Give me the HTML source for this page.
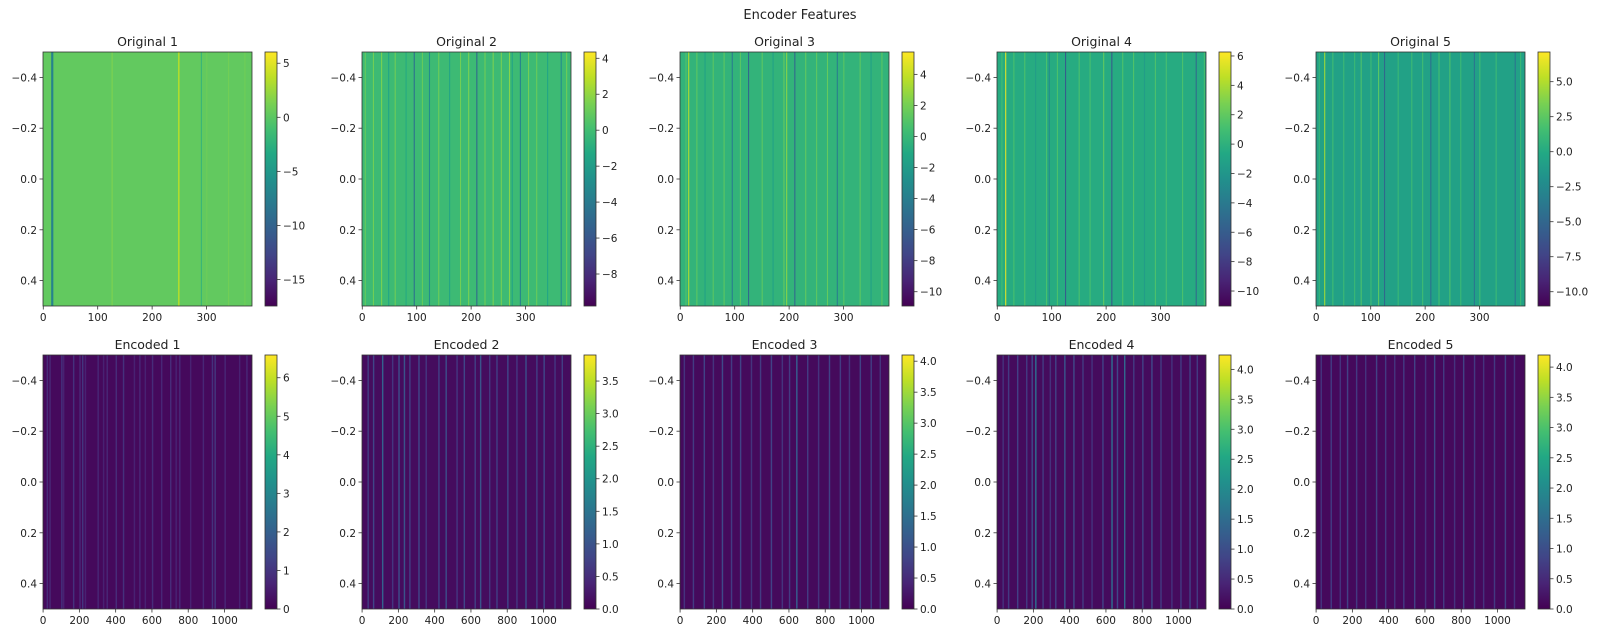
<!DOCTYPE html>
<html><head><meta charset="utf-8">
<style>
html,body{margin:0;padding:0;background:#fff;}
svg{display:block;font-family:"DejaVu Sans","Liberation Sans",sans-serif;}
</style></head>
<body>
<svg id="chart" width="1600" height="637" viewBox="0 0 1600 637" xmlns="http://www.w3.org/2000/svg">
<text x="800" y="19" text-anchor="middle" font-size="13" fill="#222">Encoder Features</text>
</svg>
<script>
// ---- data ----
const panelTitles = ["Original 1","Original 2","Original 3","Original 4","Original 5","Encoded 1","Encoded 2","Encoded 3","Encoded 4","Encoded 5"];
const origColumns = 384;
const encColumns = 1152;
const colorMins = [-17.45,-9.78,-10.92,-11.02,-11.02, 0,0,0,0,0];
const colorMaxs = [6.04,4.35,5.44,6.27,7.12, 6.59,3.9,4.1,4.24,4.2];
const cbarTicks = [
  [5,0,-5,-10,-15],[4,2,0,-2,-4,-6,-8],[4,2,0,-2,-4,-6,-8,-10],[6,4,2,0,-2,-4,-6,-8,-10],[5,-2.5,0,2.5,-5,-7.5,-10],
  [0,1,2,3,4,5,6],[0,0.5,1,1.5,2,2.5,3,3.5],[0,0.5,1,1.5,2,2.5,3,3.5,4],[0,0.5,1,1.5,2,2.5,3,3.5,4],[0,0.5,1,1.5,2,2.5,3,3.5,4]
];
const cbarDecimals = [0,0,0,0,1,0,1,1,1,1];
const baseValues = [0.3,-0.2,-0.3,-0.4,-0.7, 0.15,0.12,0.1,0.12,0.1];
const origXTicks = [0,100,200,300];
const encXTicks = [0,200,400,600,800,1000];
const yTicks = [-0.4,-0.2,0.0,0.2,0.4];
// stripe columns and values per panel
const stripeCols = [
  [15,16,17,126,248,249,290,300,340,370],
  [5,20,35,48,60,80,95,110,123,140,160,180,195,210,225,240,255,270,275,290,305,320,340,365,375],
  [10,15,30,45,60,80,95,110,125,150,170,190,195,210,230,250,270,288,300,330,350,370],
  [8,15,30,50,70,90,95,110,125,150,170,195,210,230,250,270,290,310,340,365,380],
  [5,15,30,50,70,82,100,114,125,150,175,195,210,225,245,265,290,300,330,365,375],
  [20,35,100,110,165,200,215,230,300,330,350,400,440,500,530,560,600,650,700,730,750,810,880,930,945,1000,1080,1120],
  [30,60,110,165,200,230,260,310,350,420,460,520,560,620,650,700,740,800,850,900,960,1000,1060,1100],
  [20,70,130,180,230,280,330,390,440,500,560,600,640,700,760,820,880,930,990,1050,1100],
  [30,60,110,160,190,210,250,290,320,370,420,470,520,580,630,660,700,750,800,850,900,960,1010,1060,1100],
  [25,80,130,170,220,270,330,380,430,480,540,600,650,700,760,810,870,920,980,1040,1090]
];
const stripeVals = [
  [-7,-7,-7,1.5,3.2,3.2,-2,0.8,1,0.9],
  [1,1.3,1.5,-1.5,1.2,-1.2,-4.5,1,-3,1.2,-1.5,1.3,1.5,-5,1.2,1.5,1.4,1.8,-1.6,-3.5,1.3,1.1,-1.4,-3,1.2],
  [1,3.5,1.3,-1.5,1.2,1.3,-4,1.2,-5.5,1.3,-1.5,1.5,2.5,-5.5,1.4,1.3,1.5,-4,1.2,1.3,-1.5,1.2],
  [1,5.5,1.2,1.3,-1.5,1.2,-3,1.3,-6,1.3,1.2,2,-6,1.4,1.5,-1.5,1.4,1.2,1.3,-5,1.2],
  [1,4.5,1.5,1.3,1.2,2,1.3,2.5,-5,1.2,1.3,1.5,-4.5,1.6,2,1.3,-4,1.5,1.3,-4,1.2],
  [0.8,0.7,0.9,0.6,0.9,0.7,1.0,0.6,0.7,0.6,0.7,0.8,0.9,0.6,0.7,0.6,0.8,0.7,0.8,0.6,0.7,0.6,0.7,0.9,1.0,0.7,0.6,0.7],
  [0.7,0.8,1.2,0.6,0.9,1.0,0.7,0.8,0.6,0.7,0.9,0.6,0.8,0.7,1.0,0.6,0.7,0.8,0.6,0.9,0.7,0.8,0.6,0.7],
  [0.6,0.7,0.8,0.6,0.9,0.7,0.8,0.6,0.7,0.8,0.6,0.7,1.2,0.7,0.6,0.8,0.7,0.6,0.8,0.7,0.6],
  [0.6,0.7,0.8,0.7,0.9,1.5,0.7,0.6,0.8,1.1,0.9,0.7,0.6,0.8,1.5,0.9,1.4,0.7,0.8,0.9,0.7,0.6,0.7,0.8,0.7],
  [0.6,0.7,0.6,0.8,0.7,0.6,0.8,0.7,0.6,0.7,0.8,0.6,0.9,0.7,0.6,0.8,0.7,0.6,0.7,0.8,0.6]
];
// ---- layout ----
const svgNS = "http://www.w3.org/2000/svg";
const svg = document.getElementById("chart");
const panelLefts = [43,362,680,997,1316];
const panelW = 209, panelTop = [52,355], panelH = 254;
const viridis = ["#440154","#482475","#414487","#355f8d","#2a788e","#21918c","#22a884","#44bf70","#7ad151","#bddf26","#fde725"];
function hex(c){return [parseInt(c.slice(1,3),16),parseInt(c.slice(3,5),16),parseInt(c.slice(5,7),16)];}
function cmap(t){
  t=Math.max(0,Math.min(1,t));
  const f=t*10, i=Math.min(9,Math.floor(f)), r=f-i;
  const a=hex(viridis[i]), b=hex(viridis[i+1]);
  return "rgb("+a.map((v,k)=>Math.round(v+(b[k]-v)*r)).join(",")+")";
}
function mk(tag, attrs, parent){
  const e=document.createElementNS(svgNS,tag);
  for(const k in attrs) e.setAttribute(k,attrs[k]);
  (parent||svg).appendChild(e); return e;
}
function fmt(v,d){const s=v.toFixed(d);return v<0?"\u2212"+s.slice(1):s;}
const defs = mk("defs",{});
for(let p=0;p<10;p++){
  const row = p<5?0:1, col = p%5;
  const x0 = panelLefts[col], y0 = panelTop[row];
  const nCols = row===0?origColumns:encColumns;
  const vmin=colorMins[p], vmax=colorMaxs[p];
  const xScale = c => x0 + (c+0.5)/nCols*panelW;
  const yScale = v => y0 + (v+0.5)*panelH;
  const cScale = v => (v-vmin)/(vmax-vmin);
  const g = mk("g",{});
  
  
  const title = mk("text",{x:x0+panelW/2,y:y0-6,"text-anchor":"middle","font-size":"12.5",fill:"#222"},g);
  title.textContent = panelTitles[p];
  
  
  const bg = mk("rect",{x:x0,y:y0,width:panelW,height:panelH,fill:cmap(cScale(baseValues[p]))},g);
  
  
  const sw = row===0?2:8;
  stripeCols[p].forEach((c,i)=>{
    const xa = xScale(c-0.5), xb = xScale(c-0.5+sw);
    const r = mk("rect",{x:xa,y:y0,width:Math.max(1,xb-xa),height:panelH,fill:cmap(cScale(stripeVals[p][i]))},g);
    
    
  });
  const fr = mk("rect",{x:x0,y:y0,width:panelW,height:panelH,fill:"none",stroke:"#333","stroke-width":0.8},g);
  
  
  (row===0?origXTicks:encXTicks).forEach(t=>{
    const x=xScale(t);
    mk("line",{x1:x,x2:x,y1:y0+panelH,y2:y0+panelH+3.5,stroke:"#333","stroke-width":0.8},g);
    const tx=mk("text",{x:x,y:y0+panelH+15,"text-anchor":"middle","font-size":"10.5",fill:"#222"},g);
    tx.textContent=t;
    
    
  });
  yTicks.forEach(t=>{
    const y=yScale(t);
    mk("line",{x1:x0-3.5,x2:x0,y1:y,y2:y,stroke:"#333","stroke-width":0.8},g);
    const ty=mk("text",{x:x0-6,y:y+4,"text-anchor":"end","font-size":"10.5",fill:"#222"},g);
    ty.textContent=fmt(t,1);
    
    
  });
  const cx = x0+222, cw = 12;
  const gid="cg"+p;
  const lg = mk("linearGradient",{id:gid,x1:0,y1:1,x2:0,y2:0},defs);
  for(let i=0;i<=10;i++) mk("stop",{offset:i/10,"stop-color":viridis[i]},lg);
  const cb = mk("rect",{x:cx,y:y0,width:cw,height:panelH,fill:"url(#"+gid+")",stroke:"#333","stroke-width":0.8},g);
  
  
  const cy = v => y0 + panelH*(1-(v-vmin)/(vmax-vmin));
  cbarTicks[p].forEach(t=>{
    const y=cy(t);
    mk("line",{x1:cx+cw,x2:cx+cw+3.5,y1:y,y2:y,stroke:"#333","stroke-width":0.8},g);
    const tt=mk("text",{x:cx+cw+6,y:y+4,"font-size":"10.5",fill:"#222"},g);
    tt.textContent=fmt(t,cbarDecimals[p]);
    
    
  });
}
</script>
</body></html>
